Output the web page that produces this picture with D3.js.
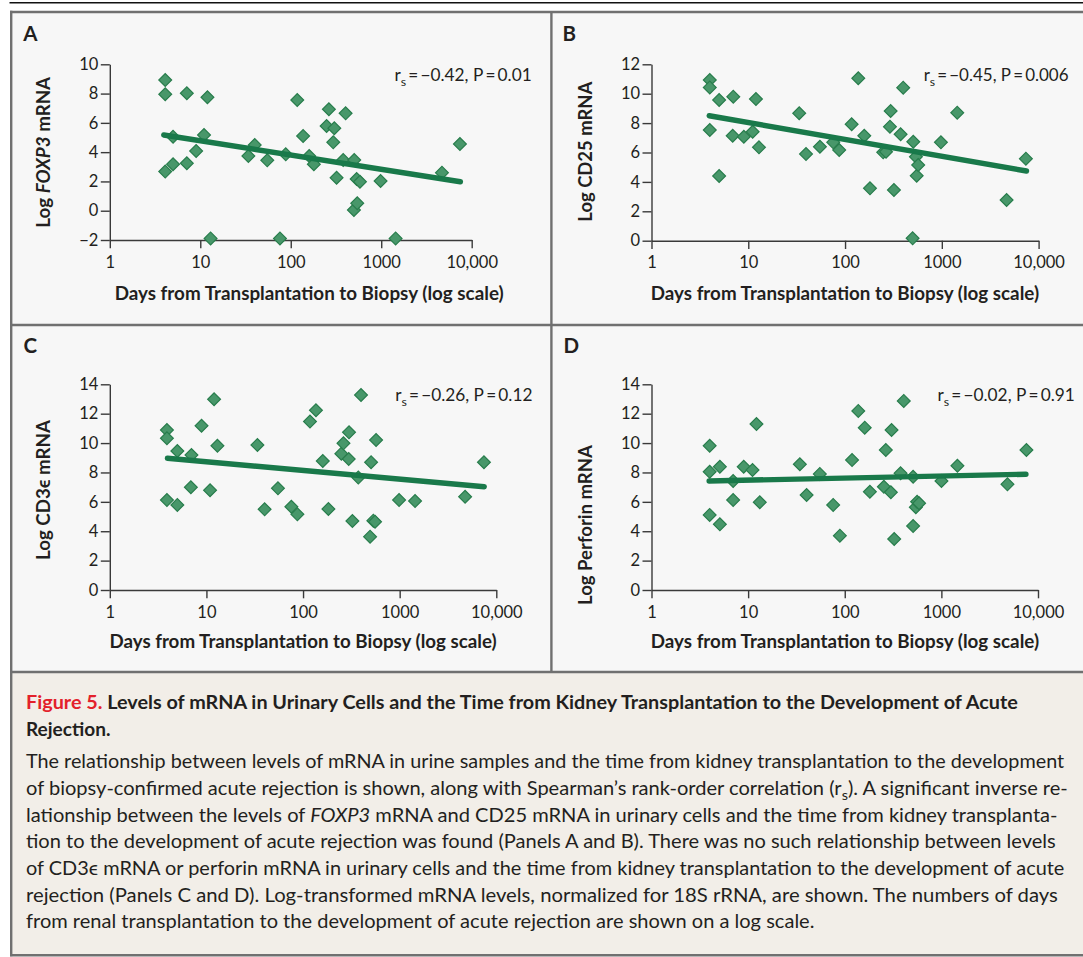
<!DOCTYPE html>
<html>
<head>
<meta charset="utf-8">
<script src="https://cdn.jsdelivr.net/npm/d3@7"></script>
<style>
  html, body { margin: 0; padding: 0; background: #ffffff; }
  svg { display: block; font-family: Lato, "Open Sans", "Noto Sans", sans-serif; }
</style>
</head>
<body>
<svg id="fig" width="1083" height="957"></svg>
<script>
// ---- Shared axis values ----
const xTickValues = [1, 10, 100, 1000, 10000];
const xTickLabels = ["1", "10", "100", "1000", "10,000"];
const fitDays = [3.95, 7500];

// ---- Panel A: FOXP3 ----
const daysA = [4.1, 4.1, 4.1, 5, 5, 7.1, 7.1, 9, 11, 12, 13, 34, 40, 55, 76, 88, 118, 137, 160, 180,
               249, 264, 295, 303, 321, 380, 404, 499, 503, 535, 543, 582, 984, 1442, 4690, 7410];
const foxp3 = [8.93, 7.95, 2.67, 5.05, 3.17, 8.02, 3.24, 4.08, 5.17, 7.75, -1.89, 3.74, 4.49, 3.44, -1.89, 3.85, 7.56, 5.10, 3.74, 3.17,
               5.79, 6.93, 4.67, 5.63, 2.25, 3.46, 6.65, 0.05, 3.46, 2.17, 0.51, 1.98, 2.03, -1.89, 2.60, 4.56];
const fitA = [5.17, 1.98];
const yTicksA = [-2, 0, 2, 4, 6, 8, 10];
const statA = ["−0.42", "0.01"];

// ---- Panel B: CD25 ----
const daysB = [4, 4, 4, 5, 5, 6.9, 7, 9, 11.1, 12, 12.9, 33.6, 39.5, 55, 75.5, 87, 117, 137, 158, 181,
               248, 265, 291, 296, 320, 375, 399, 499, 507, 540, 550, 570, 979, 1443, 4670, 7390];
const cd25 = [10.93, 10.43, 7.53, 9.57, 4.40, 7.14, 9.80, 7.07, 7.41, 9.64, 6.35, 8.67, 5.90, 6.39, 6.69, 6.17, 7.92, 11.05, 7.14, 3.56,
              6.01, 6.05, 7.76, 8.82, 3.45, 7.24, 10.41, 0.16, 6.73, 5.71, 4.42, 5.15, 6.69, 8.71, 2.77, 5.58];
const fitB = [8.50, 4.74];
const yTicksB = [0, 2, 4, 6, 8, 10, 12];
const statB = ["−0.45", "0.006"];

// ---- Panel C: CD3 epsilon ----
const daysC = [3.9, 3.9, 3.9, 5, 5, 6.9, 7, 8.9, 10.9, 12, 13, 33.7, 40, 55, 75.7, 87.4, 118, 136, 160, 183,
               249, 262, 297, 299, 324, 373, 398, 494, 506, 534, 556, 570, 986, 1443, 4755, 7450];
const cd3e = [10.89, 10.33, 6.13, 9.46, 5.79, 6.99, 9.19, 11.18, 6.79, 12.98, 9.82, 9.87, 5.49, 6.92, 5.67, 5.15, 11.46, 12.23, 8.78, 5.51,
              9.28, 9.98, 8.92, 10.73, 4.70, 7.65, 13.27, 3.63, 8.69, 4.72, 4.65, 10.21, 6.13, 6.06, 6.35, 8.69];
const fitC = [8.97, 7.03];
const yTicksC = [0, 2, 4, 6, 8, 10, 12, 14];
const statC = ["−0.26", "0.12"];

// ---- Panel D: Perforin ----
const daysD = [4, 4, 4, 5.1, 5.1, 7, 7, 9, 11.1, 12.2, 13.2, 34.3, 40.3, 55.2, 75.9, 89, 119, 138, 161, 182,
               254, 266, 300, 305, 325, 378, 408, 510, 510, 544, 561, 588, 1002, 1466, 4830, 7590];
const perforin = [9.82, 8.05, 5.11, 8.39, 4.47, 7.42, 6.13, 8.39, 8.17, 11.30, 5.97, 8.56, 6.47, 7.90, 5.79, 3.70, 8.85, 12.19, 11.05, 6.69,
                  7.03, 9.53, 6.65, 10.89, 3.47, 7.94, 12.87, 7.71, 4.36, 5.63, 6.01, 5.90, 7.42, 8.46, 7.19, 9.53];
const fitD = [7.42, 7.88];
const yTicksD = [0, 2, 4, 6, 8, 10, 12, 14];
const statD = ["−0.02", "0.91"];

// ---- Caption text ----
const captionTitle = [
  [["Figure 5.", "red"], [" Levels of mRNA in Urinary Cells and the Time from Kidney Transplantation to the Development of Acute", ""]],
  [["Rejection.", ""]]
];
const captionBody = [
  [["The relationship between levels of mRNA in urine samples and the time from kidney transplantation to the development", ""]],
  [["of biopsy-confirmed acute rejection is shown, along with Spearman\u2019s rank-order correlation (r", ""], ["s", "sub"], ["). A significant inverse re-", ""]],
  [["lationship between the levels of ", ""], ["FOXP3", "i"], [" mRNA and CD25 mRNA in urinary cells and the time from kidney transplanta-", ""]],
  [["tion to the development of acute rejection was found (Panels A and B). There was no such relationship between levels", ""]],
  [["of CD3\u03f5 mRNA or perforin mRNA in urinary cells and the time from kidney transplantation to the development of acute", ""]],
  [["rejection (Panels C and D). Log-transformed mRNA levels, normalized for 18S rRNA, are shown. The numbers of days", ""]],
  [["from renal transplantation to the development of acute rejection are shown on a log scale.", ""]]
];

// ---- Styling ----
const INK = "#231f20";
const AXIS = "#3a3a3a";
const FRAME = "#707070";
const PANEL_BG = "#f7f7f7";
const CAPTION_BG = "#f2eee8";
const RED = "#e3212b";
const POINT_FILL = "#48976a";
const POINT_STROKE = "#287d4c";
const FIT_COLOR = "#19794a";

const svg = d3.select("#fig");

// Stretch or squeeze a text element horizontally so it spans `width`, anchored at (ax, 0) in its own frame
function fitWidth(textSel, width, ax = 0) {
  const w = textSel.node().getComputedTextLength();
  if (!w) return;
  const k = width / w;
  textSel.attr("transform", `translate(${ax},0) scale(${k},1) translate(${-ax},0)`);
}

// Append rich text made of [string, style] segments
function richText(parent, x, y, segments, baseSize) {
  const t = parent.append("text").attr("x", x).attr("y", y);
  let shift = 0;
  segments.forEach(([str, style]) => {
    const ts = t.append("tspan").text(str);
    if (style === "sub") {
      ts.attr("dy", baseSize * 0.28).attr("font-size", baseSize * 0.72);
      shift = baseSize * 0.28;
    } else {
      if (shift) { ts.attr("dy", -shift); shift = 0; }
      if (style === "i") ts.style("font-style", "italic");
      if (style === "red") ts.attr("fill", RED);
    }
  });
  return t;
}

// ---- Backgrounds and frame ----
svg.append("rect").attr("x", 11).attr("y", 12).attr("width", 1083).attr("height", 660).attr("fill", PANEL_BG);
svg.append("rect").attr("x", 11).attr("y", 672).attr("width", 1083).attr("height", 283).attr("fill", CAPTION_BG);

svg.append("line").attr("x1", 9.5).attr("x2", 1083).attr("y1", 2.7).attr("y2", 2.7)
  .attr("stroke", "#111").attr("stroke-width", 1.6);

const frame = svg.append("g").attr("stroke", FRAME).attr("stroke-width", 2.4).attr("fill", "none");
frame.append("line").attr("x1", 11.2).attr("x2", 11.2).attr("y1", 10.8).attr("y2", 956.2);
frame.append("line").attr("x1", 10).attr("x2", 1083).attr("y1", 12).attr("y2", 12);
frame.append("line").attr("x1", 551.4).attr("x2", 551.4).attr("y1", 12).attr("y2", 672);
frame.append("line").attr("x1", 10).attr("x2", 1083).attr("y1", 325).attr("y2", 325);
frame.append("line").attr("x1", 10).attr("x2", 1083).attr("y1", 672).attr("y2", 672);
frame.append("line").attr("x1", 10).attr("x2", 1083).attr("y1", 955.2).attr("y2", 955.2);

// ---- Panels ----
const panels = [
  { letter: "A", days: daysA, values: foxp3, fit: fitA, yTicks: yTicksA, stat: statA,
    xRange: [109.8, 471.7], yRange: [240, 64.3],
    letterPos: [23.3, 40.7],
    yTitle: [["Log ", ""], ["FOXP3", "i"], [" mRNA", ""]], yTitlePos: [50.4, 152.3], yTitleLen: 151,
    statPos: [394.5, 81], statLen: 137.3,
    xTitlePos: [114.7, 300], xTitleLen: 389.3 },
  { letter: "B", days: daysB, values: cd25, fit: fitB, yTicks: yTicksB, stat: statB,
    xRange: [651.5, 1038.6], yRange: [240.7, 64.3],
    letterPos: [562.5, 40.7],
    yTitle: [["Log CD25 mRNA", ""]], yTitlePos: [592, 151.7], yTitleLen: 140,
    statPos: [923.7, 81], statLen: 145,
    xTitlePos: [650.8, 300], xTitleLen: 388.5 },
  { letter: "C", days: daysC, values: cd3e, fit: fitC, yTicks: yTicksC, stat: statC,
    xRange: [109.8, 496.3], yRange: [590, 384.3],
    letterPos: [23.6, 353.3],
    yTitle: [["Log CD3\u03f5 mRNA", ""]], yTitlePos: [50.4, 490], yTitleLen: 140,
    statPos: [395.2, 401], statLen: 137.3,
    xTitlePos: [109.5, 648], xTitleLen: 387.5 },
  { letter: "D", days: daysD, values: perforin, fit: fitD, yTicks: yTicksD, stat: statD,
    xRange: [651.5, 1038], yRange: [590, 384.3],
    letterPos: [563.5, 353.3],
    yTitle: [["Log Perforin mRNA", ""]], yTitlePos: [592, 525], yTitleLen: 160,
    statPos: [937.5, 401], statLen: 137.5,
    xTitlePos: [650.8, 648], xTitleLen: 388.5 }
];

const diamond = d3.symbol().type(d3.symbolSquare).size(82);

panels.forEach(p => {
  const g = svg.append("g");
  const x = d3.scaleLog().domain([1, 10000]).range(p.xRange);
  const y = d3.scaleLinear().domain(d3.extent(p.yTicks)).range(p.yRange);

  // Axes
  const xAxis = g.append("g").attr("transform", `translate(0,${p.yRange[0]})`)
    .call(d3.axisBottom(x).tickValues(xTickValues).tickFormat((d, i) => xTickLabels[i])
      .tickSize(8.3).tickSizeOuter(0));
  xAxis.selectAll("text").attr("y", 27.5).attr("dy", null)
    .attr("font-size", 16.5).attr("fill", INK).attr("font-family", "Lato, sans-serif");

  const yAxis = g.append("g").attr("transform", `translate(${p.xRange[0]},0)`)
    .call(d3.axisLeft(y).tickValues(p.yTicks).tickFormat(d3.format("d"))
      .tickSize(9).tickSizeOuter(0).tickPadding(2.4));
  yAxis.selectAll("text").attr("font-size", 16.5).attr("fill", INK).attr("font-family", "Lato, sans-serif");

  [xAxis, yAxis].forEach(a => {
    a.select(".domain").attr("stroke", AXIS).attr("stroke-width", 1.4);
    a.selectAll(".tick line").attr("stroke", AXIS).attr("stroke-width", 1.4);
  });

  // Points
  g.append("g").selectAll("path").data(p.days.map((d, i) => [d, p.values[i]])).join("path")
    .attr("d", diamond)
    .attr("transform", d => `translate(${x(d[0])},${y(d[1])}) rotate(45)`)
    .attr("fill", POINT_FILL).attr("stroke", POINT_STROKE).attr("stroke-width", 1.2);

  // Regression line
  g.append("path")
    .datum(fitDays.map((d, i) => [d, p.fit[i]]))
    .attr("d", d3.line().x(d => x(d[0])).y(d => y(d[1])))
    .attr("stroke", FIT_COLOR).attr("stroke-width", 5.4).attr("stroke-linecap", "round").attr("fill", "none");

  // Panel letter
  g.append("text").attr("x", p.letterPos[0]).attr("y", p.letterPos[1])
    .attr("font-size", 20.5).attr("font-weight", 700).attr("fill", INK).text(p.letter);

  // Y-axis title
  const yt = g.append("g").attr("transform", `translate(${p.yTitlePos[0]},${p.yTitlePos[1]}) rotate(-90)`);
  const ytText = richText(yt, 0, 0, p.yTitle, 18)
    .attr("text-anchor", "middle").attr("font-size", 18).attr("font-weight", 700).attr("fill", INK);
  fitWidth(ytText, p.yTitleLen, 0);

  // Correlation statistic
  const st = richText(g, p.statPos[0], p.statPos[1],
    [["r", ""], ["s", "sub"], ["\u2009=\u2009" + p.stat[0] + ", P\u2009=\u2009" + p.stat[1], ""]], 16.5)
    .attr("font-size", 16.5).attr("fill", INK);
  fitWidth(st, p.statLen, p.statPos[0]);

  // X-axis title
  const xt = g.append("text").attr("x", p.xTitlePos[0]).attr("y", p.xTitlePos[1])
    .attr("font-size", 18).attr("font-weight", 700).attr("fill", INK)
    .text("Days from Transplantation to Biopsy (log scale)");
  fitWidth(xt, p.xTitleLen, p.xTitlePos[0]);
});

// ---- Caption ----
const cap = svg.append("g").attr("fill", INK);
const titleBaselines = [709.3, 736];
const titleEnds = [1018.7, 110.5];
captionTitle.forEach((line, i) => {
  const t = richText(cap, 26, titleBaselines[i], line, 19).attr("font-size", 19).attr("font-weight", 700);
  fitWidth(t, titleEnds[i] - 26, 26);
});
const bodyBaselines = [768.3, 795, 821.7, 848.3, 875, 901.7, 928.3];
const bodyEnds = [1065, 1069, 1058, 1056.6, 1065, 1059, 815];
captionBody.forEach((line, i) => {
  const t = richText(cap, 26, bodyBaselines[i], line, 19.5).attr("font-size", 19.5);
  fitWidth(t, bodyEnds[i] - 26, 26);
});
</script>
</body>
</html>
